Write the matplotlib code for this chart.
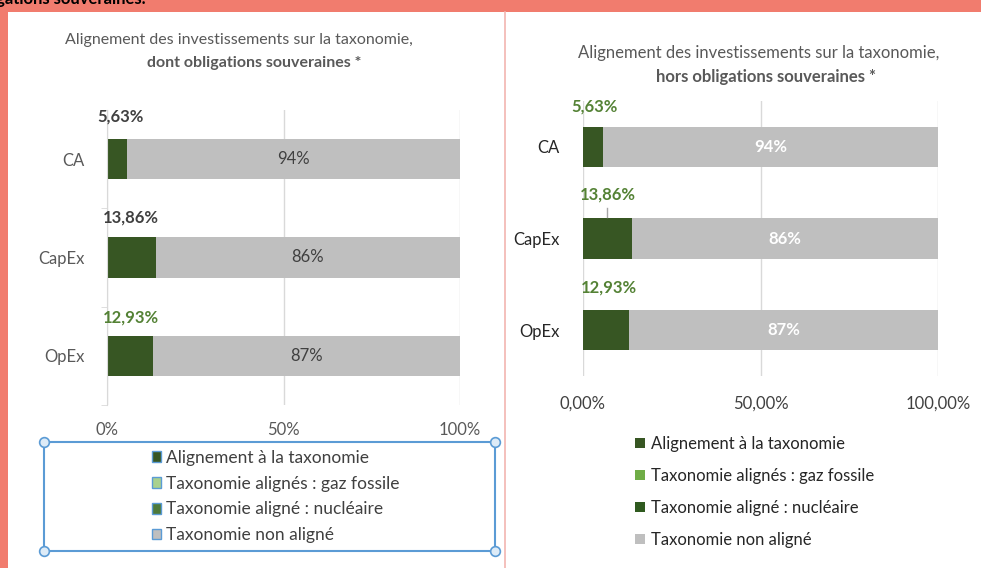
import matplotlib.pyplot as plt
from matplotlib.patches import Rectangle, Patch
from matplotlib.lines import Line2D

plt.rcParams['font.family'] = ['Lato', 'DejaVu Sans']

categories = ["CA", "CapEx", "OpEx"]
aligned = [5.63, 13.86, 12.93]
non_aligned = [94.37, 86.14, 87.07]
legend_labels = ["Alignement à la taxonomie",
                 "Taxonomie alignés : gaz fossile",
                 "Taxonomie aligné : nucléaire",
                 "Taxonomie non aligné"]
left_ticks = ["0%", "50%", "100%"]
right_ticks = ["0,00%", "50,00%", "100,00%"]

W, H = 981, 568
SALMON = '#F17C6E'
DARK_GREEN = '#375623'
GREY = '#BFBFBF'
LABEL_GREEN = '#548235'


def fmt(v):
    return ("%.2f%%" % v).replace(".", ",")


def px_axes(fig, x0, x1, y0, y1):
    return fig.add_axes([x0 / W, 1 - y1 / H, (x1 - x0) / W, (y1 - y0) / H])


def draw_bars(ax, height, inside_color, inside_weight):
    y = range(len(categories))
    ax.barh(y, aligned, height=height, color=DARK_GREEN)
    ax.barh(y, non_aligned, left=aligned, height=height, color=GREY)
    for i in y:
        mid = aligned[i] + non_aligned[i] / 2
        ax.text(mid, i, "%d%%" % round(non_aligned[i]), ha='center', va='center',
                fontsize=12, color=inside_color, fontweight=inside_weight)
    ax.set_xlim(0, 100)
    ax.set_ylim(2.5, -0.5)
    ax.set_xticks([0, 50, 100])
    ax.grid(axis='x', color='#D9D9D9', lw=1)
    ax.set_axisbelow(True)
    for s in ax.spines.values():
        s.set_visible(False)


fig = plt.figure(figsize=(W / 100, H / 100), dpi=100)
fig.patch.set_facecolor(SALMON)

# white panels
fig.add_artist(Rectangle((8 / W, 0), (W - 8) / W, 1 - 12 / H, transform=fig.transFigure,
                         facecolor='white', edgecolor='none', zorder=0))
fig.add_artist(Line2D([504.5 / W, 504.5 / W], [0, 1 - 12 / H], transform=fig.transFigure,
                      color='#F2B5B0', lw=1.2))
fig.text(146 / W, 1 - 4 / H, "obligations souveraines.", ha='right', va='baseline',
         fontsize=12, fontweight='bold', color='black')

# ---- left chart
ax1 = px_axes(fig, 107, 460, 110, 405)
draw_bars(ax1, 0.41, '#404040', 'normal')
ax1.set_yticks(range(3))
ax1.set_yticklabels(categories)
ax1.set_yticks([0.5, 1.5, 2.5], minor=True)
ax1.tick_params(axis='y', which='major', length=0, pad=16, labelsize=12, labelcolor='#595959')
ax1.tick_params(axis='y', which='minor', length=4, color='#D9D9D9')
ax1.spines['left'].set_visible(True)
ax1.spines['left'].set_color('#D9D9D9')
ax1.set_xticklabels(left_ticks)
ax1.tick_params(axis='x', length=0, pad=12, labelsize=12, labelcolor='#595959')
left_lbl = [(3.7, -0.43, '#404040'), (6.8, -0.41, '#404040'), (6.8, -0.39, LABEL_GREEN)]
for i, (x, dy, c) in enumerate(left_lbl):
    ax1.text(x, i + dy, fmt(aligned[i]), ha='center', va='center', fontsize=12,
             fontweight='bold', color=c)

fig.text(239 / W, 1 - 40 / H, "Alignement des investissements sur la taxonomie,",
         ha='center', va='center', fontsize=11.5, color='#595959')
fig.text(254 / W, 1 - 63 / H, "dont obligations souveraines *",
         ha='center', va='center', fontsize=11.5, fontweight='bold', color='#595959')

# left legend (selected box look)
box_x0, box_x1, box_y0, box_y1 = 44, 495, 442, 551
fig.add_artist(Rectangle((box_x0 / W, 1 - box_y1 / H), (box_x1 - box_x0) / W,
                         (box_y1 - box_y0) / H, transform=fig.transFigure,
                         facecolor='none', edgecolor='#5B9BD5', lw=1.5))
for cx, cy in [(box_x0, box_y0), (box_x1, box_y0), (box_x0, box_y1), (box_x1, box_y1)]:
    fig.add_artist(Line2D([cx / W], [1 - cy / H], transform=fig.transFigure, marker='o',
                          ms=7, mfc='#DDEBF7', mec='#5B9BD5', mew=1.2))
left_colors = [DARK_GREEN, '#A9D18E', '#4E7A3A', GREY]
h1 = [Patch(facecolor=c, edgecolor='#5B9BD5', lw=1) for c in left_colors]
fig.legend(h1, legend_labels, loc='upper left', bbox_to_anchor=(143 / W, 1 - 441 / H),
           frameon=False, fontsize=12.5, handlelength=0.55, handleheight=0.55,
           handletextpad=0.3, labelspacing=0.57, borderpad=0, labelcolor='#404040')

# ---- right chart
ax2 = px_axes(fig, 583, 938, 101, 376)
draw_bars(ax2, 0.44, 'white', 'bold')
ax2.set_yticks(range(3))
ax2.set_yticklabels(categories)
ax2.tick_params(axis='y', length=0, pad=17, labelsize=12, labelcolor='#262626')
ax2.set_xticklabels(right_ticks)
ax2.tick_params(axis='x', length=0, pad=14, labelsize=12, labelcolor='#404040')
right_lbl = [(3.1, -0.44), (7.0, -0.48), (7.3, -0.46)]
for i, (x, dy) in enumerate(right_lbl):
    ax2.text(x, i + dy, fmt(aligned[i]), ha='center', va='center', fontsize=12,
             fontweight='bold', color=LABEL_GREEN)
ax2.plot([6.9, 6.9], [1 - 0.33, 1 - 0.23], color='#A6A6A6', lw=1)

fig.text(759 / W, 1 - 53 / H, "Alignement des investissements sur la taxonomie,",
         ha='center', va='center', fontsize=12, color='#595959')
fig.text(766 / W, 1 - 77 / H, "hors obligations souveraines *",
         ha='center', va='center', fontsize=12, fontweight='bold', color='#595959')

right_colors = [DARK_GREEN, '#70AD47', '#2F5A1F', GREY]
h2 = [Patch(facecolor=c, edgecolor='none') for c in right_colors]
fig.legend(h2, legend_labels, loc='upper left', bbox_to_anchor=(627 / W, 1 - 428 / H),
           frameon=False, fontsize=12, handlelength=0.55, handleheight=0.55,
           handletextpad=0.4, labelspacing=0.95, borderpad=0, labelcolor='#262626')

fig.savefig("out.png", dpi=100, facecolor=fig.get_facecolor())
